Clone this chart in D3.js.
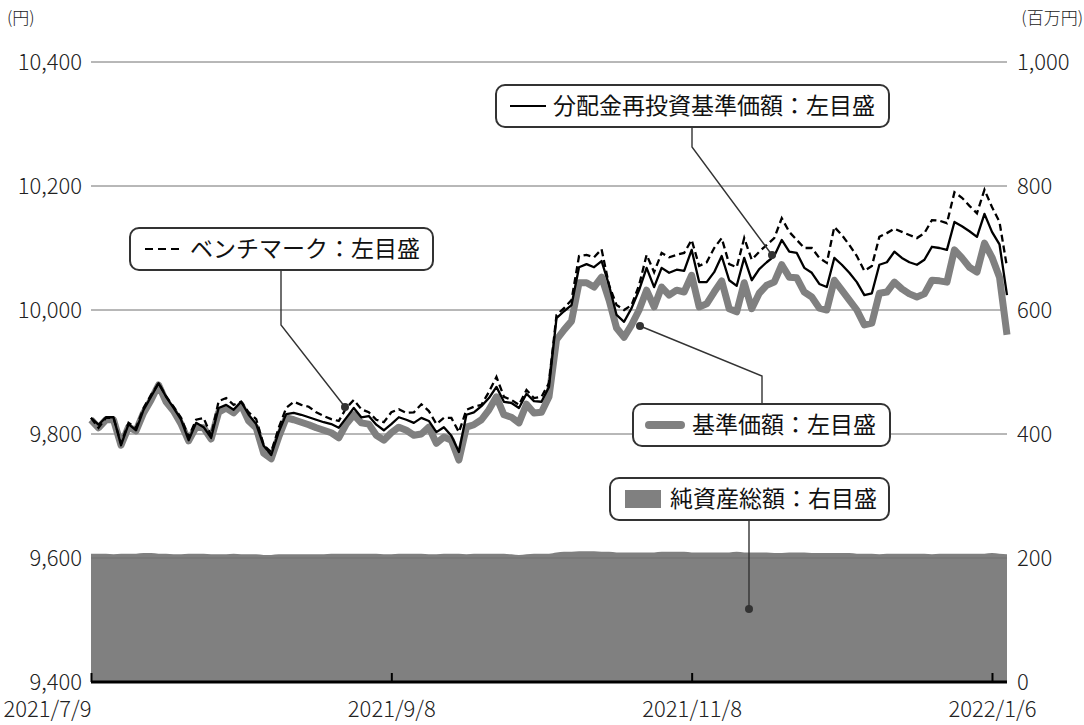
<!DOCTYPE html>
<html><head><meta charset="utf-8">
<script src="https://cdn.jsdelivr.net/npm/d3@7"></script>
<style>
html,body{margin:0;padding:0;background:#fff;}
text{font-family:"Noto Sans CJK JP","Noto Sans",sans-serif;}
</style></head>
<body><svg id="c" width="1084" height="725"></svg>
<script>
// x positions are business-day indices (0 = 2021/7/9)
const tickIdx = [0, 40, 80, 120];
const tickLabels = ["2021/7/9", "2021/9/8", "2021/11/8", "2022/1/6"];
const leftTicks = [9400, 9600, 9800, 10000, 10200, 10400];
const rightTicks = [0, 200, 400, 600, 800, 1000];

// 基準価額 (円)
const nav = [9823,9810,9823,9823,9782,9811,9805,9834,9855,9879,9852,9837,9816,9789,9811,9810,9792,9835,9842,9834,
9847,9821,9810,9769,9760,9795,9826,9823,9819,9815,9810,9806,9802,9794,9816,9831,9818,9816,9798,9790,
9802,9811,9806,9798,9800,9811,9785,9795,9790,9758,9811,9815,9823,9839,9860,9831,9827,9818,9848,9834,
9835,9860,9952,9968,9982,10044,10044,10037,10053,10016,9971,9956,9976,10000,10032,10005,10037,10024,10032,10029,
10056,10005,10010,10029,10047,10002,9997,10044,10002,10027,10040,10045,10073,10053,10052,10029,10021,10003,10000,10048,
10032,10016,10000,9976,9979,10027,10029,10045,10034,10026,10021,10026,10048,10047,10045,10097,10084,10069,10061,10108,
10085,10053,9960];

// 分配金再投資基準価額 (円)
const reinvest = [9826,9815,9827,9827,9782,9816,9806,9839,9860,9882,9860,9842,9823,9790,9818,9811,9794,9842,9847,9839,
9852,9831,9816,9781,9766,9803,9832,9834,9831,9827,9823,9819,9816,9810,9826,9842,9827,9829,9815,9806,
9816,9827,9823,9818,9826,9821,9803,9811,9797,9771,9831,9835,9845,9858,9876,9852,9850,9842,9865,9853,
9852,9876,9987,9998,10008,10069,10074,10069,10079,10040,9992,9981,10003,10032,10068,10037,10068,10060,10065,10063,
10097,10045,10045,10061,10087,10048,10039,10084,10048,10066,10077,10087,10113,10094,10092,10068,10060,10042,10037,10084,
10073,10060,10045,10024,10027,10073,10077,10094,10084,10077,10073,10081,10102,10100,10097,10142,10135,10127,10118,10155,
10126,10106,10024];

// ベンチマーク (円)
const bench = [9826,9810,9826,9826,9785,9818,9810,9842,9863,9882,9861,9844,9826,9795,9823,9826,9797,9853,9858,9847,
9852,9835,9824,9782,9771,9810,9842,9852,9847,9844,9835,9829,9824,9821,9842,9855,9840,9835,9823,9819,
9835,9840,9834,9835,9848,9837,9816,9826,9826,9803,9839,9844,9847,9868,9892,9860,9855,9847,9871,9858,
9860,9882,9992,10003,10016,10087,10089,10085,10098,10040,10008,10000,10008,10040,10089,10061,10092,10085,10089,10092,
10113,10071,10077,10100,10116,10074,10069,10116,10081,10094,10105,10116,10148,10126,10113,10100,10100,10084,10076,10134,
10121,10105,10087,10063,10071,10118,10124,10131,10126,10121,10116,10124,10145,10144,10140,10190,10181,10168,10156,10194,
10166,10142,10069];

// 純資産総額 (百万円)
const assets = [207,207,207,206,207,207,207,208,208,207,207,206,206,207,207,207,206,206,206,207,
206,206,206,205,205,206,206,206,206,206,206,206,207,207,207,207,207,207,207,206,
206,207,207,207,207,206,206,207,207,207,206,207,207,207,207,207,206,205,206,207,
207,207,209,210,210,211,211,211,210,210,209,209,209,209,209,209,210,210,210,210,
209,209,209,209,209,209,210,209,209,209,209,208,208,209,209,209,208,208,208,208,
208,208,207,207,207,206,207,207,207,207,207,207,206,207,207,207,207,207,207,207,
208,207,206];

const svg = d3.select("#c");
const L = 91, R = 1007, T = 62, B = 682;
const x = d3.scaleLinear().domain([0, nav.length - 1]).range([L, R]);
const yL = d3.scaleLinear().domain([9400, 10400]).range([B, T]);
const yR = d3.scaleLinear().domain([0, 1000]).range([B, T]);

// area
svg.append("path").datum(assets)
  .attr("fill", "#808080")
  .attr("d", d3.area().x((d,i)=>x(i)).y0(yR(0)).y1(d=>yR(d)).curve(d3.curveMonotoneX));

// gridlines
svg.append("g").selectAll("line").data(leftTicks.filter(v=>v>9400)).join("line")
  .attr("x1", L).attr("x2", R).attr("y1", d=>yL(d)).attr("y2", d=>yL(d))
  .attr("stroke", "#707070").attr("stroke-width", 1);

const axisFont = (sel, fs) => sel.selectAll("text").attr("font-size", fs).attr("fill", "#222")
  .style("font-family", '"Noto Sans CJK JP"').style("font-weight", 300);

// left axis
const gl = svg.append("g").attr("transform", `translate(${L},0)`)
  .call(d3.axisLeft(yL).tickValues(leftTicks).tickSize(0).tickPadding(9).tickFormat(d3.format(",")));
gl.select(".domain").remove();
axisFont(gl, 22);

// right axis
const gr = svg.append("g").attr("transform", `translate(${R},0)`)
  .call(d3.axisRight(yR).tickValues(rightTicks).tickSize(0).tickPadding(10).tickFormat(d3.format(",")));
gr.select(".domain").remove();
axisFont(gr, 22);

// unit labels
svg.append("text").attr("x", 7).attr("y", 24).attr("font-size", 17).attr("fill", "#222")
  .style("font-weight", 300).text("(円)");
svg.append("text").attr("x", 1083).attr("y", 24).attr("font-size", 17).attr("fill", "#222")
  .style("font-weight", 300).attr("text-anchor", "end").text("(百万円)");

// lines
const line = d3.line().x((d,i)=>x(i)).y(d=>yL(d));
svg.append("path").datum(nav).attr("d", line).attr("fill", "none")
  .attr("stroke", "#808080").attr("stroke-width", 7).attr("stroke-linejoin", "round");
svg.append("path").datum(reinvest).attr("d", line).attr("fill", "none")
  .attr("stroke", "#000").attr("stroke-width", 2.3).attr("stroke-linejoin", "round");
svg.append("path").datum(bench).attr("d", line).attr("fill", "none")
  .attr("stroke", "#000").attr("stroke-width", 2.3).attr("stroke-dasharray", "7,4");

// x axis
const gx = svg.append("g").attr("transform", `translate(0,${B})`)
  .call(d3.axisBottom(x).tickValues(tickIdx).tickSize(-9).tickPadding(19)
    .tickFormat((d,i)=>tickLabels[i]));
gx.select(".domain").attr("d", `M${L},0H${R}`).attr("stroke", "#000").attr("stroke-width", 3);
gx.selectAll(".tick line").attr("stroke", "#000").attr("stroke-width", 2);
axisFont(gx, 22);
gx.selectAll(".tick text").filter((d,i)=>i===0).attr("text-anchor", "start").attr("x", -88);

// callouts
const ann = svg.append("g");
function leader(pts, dot){
  ann.append("path").attr("d", d3.line()(pts)).attr("fill","none").attr("stroke","#333").attr("stroke-width",1.4);
  ann.append("circle").attr("cx", dot[0]).attr("cy", dot[1]).attr("r", 4).attr("fill", "#333");
}
leader([[281,270],[281,325],[345,407]], [345,407]);
leader([[692,127],[692,147],[772,255]], [772,255]);
leader([[640,326],[762,376],[762,403]], [640,326]);
leader([[749,520],[749,609]], [749,609]);

function box(x0, y0, w, h){
  ann.append("rect").attr("x", x0).attr("y", y0).attr("width", w).attr("height", h)
    .attr("rx", 9).attr("fill", "#fff").attr("stroke", "#333").attr("stroke-width", 2);
}
function label(xt, yc, t){
  ann.append("text").attr("x", xt).attr("y", yc).attr("dy", "0.36em").attr("font-size", 23)
    .attr("fill", "#111").text(t);
}
// benchmark
box(130, 228, 303, 42);
ann.append("line").attr("x1",145).attr("x2",181).attr("y1",249).attr("y2",249)
  .attr("stroke","#000").attr("stroke-width",2.2).attr("stroke-dasharray","8,5");
label(190, 249, "ベンチマーク：左目盛");
// reinvest
box(496, 85, 393, 42);
ann.append("line").attr("x1",510).attr("x2",546).attr("y1",106).attr("y2",106)
  .attr("stroke","#000").attr("stroke-width",2.2);
label(553, 106, "分配金再投資基準価額：左目盛");
// nav
box(633, 404, 257, 42);
ann.append("line").attr("x1",649).attr("x2",681).attr("y1",425).attr("y2",425)
  .attr("stroke","#808080").attr("stroke-width",8).attr("stroke-linecap","round");
label(692, 425, "基準価額：左目盛");
// assets
box(610, 478, 279, 42);
ann.append("rect").attr("x",625).attr("y",490).attr("width",36).attr("height",18).attr("fill","#808080");
label(670, 499, "純資産総額：右目盛");
</script></body></html>
